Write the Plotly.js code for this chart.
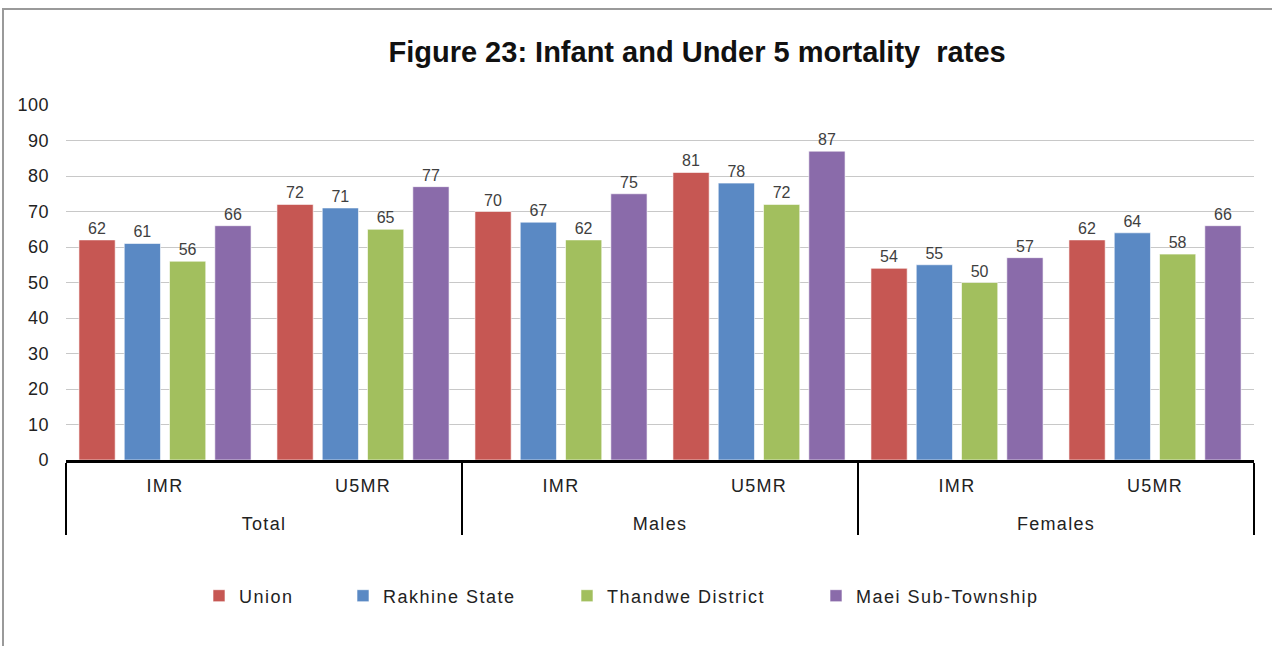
<!DOCTYPE html>
<html>
<head>
<meta charset="utf-8">
<script src="https://cdn.plot.ly/plotly-3.0.1.min.js"></script>
<style>
  html, body { margin: 0; padding: 0; background: #fff; }
  #wrap { position: relative; width: 1272px; height: 646px; overflow: hidden; }
  #chart { position: absolute; left: 0; top: 0; width: 1272px; height: 646px; }
  #frameTop { position: absolute; left: 2px; top: 8px; width: 1270px; height: 0; border-top: 2px solid #9a9a9a; }
  #frameLeft { position: absolute; left: 2px; top: 8px; width: 0; height: 638px; border-left: 2px solid #9a9a9a; }
  .legend text, .legend2 text, .legend3 text, .legend4 text,
  g[class^="legend"] text { letter-spacing: 1.5px !important; }
  .xtick text, .xtick2 text { letter-spacing: 1.3px; }
  .ytick text { letter-spacing: 0.5px; }
</style>
</head>
<body>
<div id="wrap">
  <div id="chart"></div>
  <div id="frameTop"></div>
  <div id="frameLeft"></div>
</div>
<script>
const groups = ["Total", "Total", "Males", "Males", "Females", "Females"];
const measures = ["IMR", "U5MR", "IMR", "U5MR", "IMR", "U5MR"];
const seriesNames = ["Union", "Rakhine State", "Thandwe District", "Maei Sub-Township"];
const union = [62, 72, 70, 81, 54, 62];
const rakhine = [61, 71, 67, 78, 55, 64];
const thandwe = [56, 65, 62, 72, 50, 58];
const maei = [66, 77, 75, 87, 57, 66];
const colors = ["#C65753", "#5A89C4", "#A2BF5E", "#8A6BAA"];
const titleText = "Figure 23: Infant and Under 5 mortality  rates";

const allValues = [union, rakhine, thandwe, maei];
const FONT = "'Liberation Sans', Arial, sans-serif";
const W = 1272, H = 646;

// second-level labels get an empty first line to open the gap between the two label rows
const groupLabels = groups.map(g => "<br>" + g);

// legend swatch centres (px) for the four separate legend entries
const legendCentres = [219, 363, 587, 836];
const legendKeys = ["legend", "legend2", "legend3", "legend4"];

const traces = allValues.map((vals, i) => ({
  type: "bar",
  name: seriesNames[i],
  legend: legendKeys[i],
  x: [groupLabels, measures],
  y: vals,
  text: vals.map(v => String(v)),
  textposition: "outside",
  cliponaxis: false,
  textfont: { family: FONT, size: 16, color: "#404040" },
  marker: { color: colors[i], line: { color: "rgba(255,255,255,0.6)", width: 1 } },
  hoverinfo: "y+name"
}));

const layout = {
  width: W,
  height: H,
  paper_bgcolor: "#ffffff",
  plot_bgcolor: "#ffffff",
  margin: { l: 66, r: 18, t: 105, b: 186 },
  font: { family: FONT, size: 17, color: "#222222" },
  title: {
    text: titleText,
    font: { family: FONT, size: 29, color: "#111111", weight: "bold" },
    x: 0.548, xanchor: "center",
    y: 1 - 52 / H, yanchor: "middle",
    xref: "container", yref: "container"
  },
  barmode: "group",
  bargap: 0.085,
  bargroupgap: 0.2,
  xaxis: {
    type: "multicategory",
    showline: true,
    linecolor: "#000000",
    linewidth: 2.5,
    showdividers: true,
    dividercolor: "#000000",
    dividerwidth: 2.5,
    ticks: "",
    ticklabelstandoff: 8,
    showgrid: false,
    tickfont: { family: FONT, size: 18, color: "#222222" },
    range: [-0.5, 5.5]
  },
  yaxis: {
    range: [0, 100],
    dtick: 10,
    tick0: 0,
    showgrid: true,
    gridcolor: "#c8c8c8",
    gridwidth: 1,
    zeroline: false,
    showline: false,
    ticks: "",
    ticklabelstandoff: 16,
    tickfont: { family: FONT, size: 18, color: "#222222" }
  },
  showlegend: true
};

legendKeys.forEach((k, i) => {
  layout[k] = {
    orientation: "h",
    x: (legendCentres[i] - 20) / W, xanchor: "left", xref: "container",
    y: 1 - 596 / H, yanchor: "middle", yref: "container",
    font: { family: FONT, size: 18, color: "#222222" },
    itemwidth: 30,
    entrywidth: 210,
    entrywidthmode: "pixels",
    bgcolor: "rgba(0,0,0,0)",
    borderwidth: 0,
    itemclick: false
  };
});

Plotly.newPlot("chart", traces, layout, { displayModeBar: false, staticPlot: true });
</script>
</body>
</html>
